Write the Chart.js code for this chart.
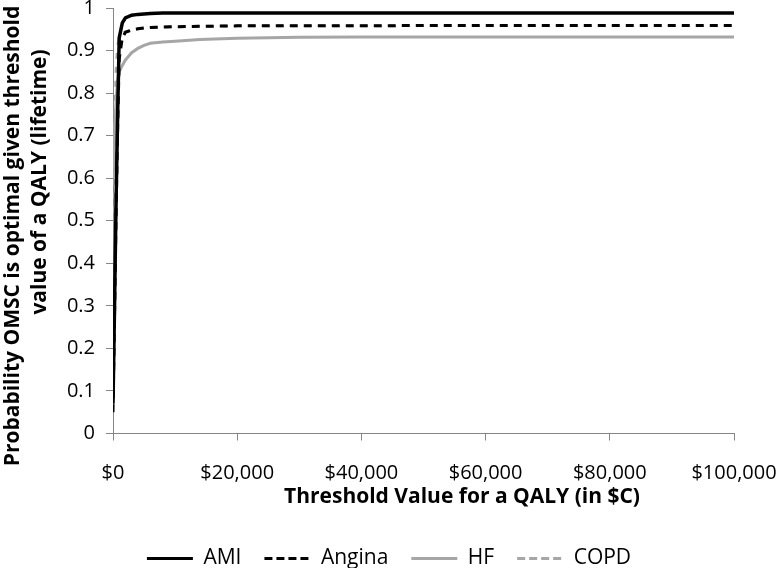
<!DOCTYPE html>
<html lang="en">
<head>
<meta charset="UTF-8">
<title>Probability OMSC is optimal</title>
<script src="https://cdn.jsdelivr.net/npm/chart.js@4"></script>
<style>
  body { margin: 0; background: #fff; }
  canvas { display: block; }
</style>
</head>
<body>
<canvas id="grafico" width="780" height="568"></canvas>
<script>
// threshold values ($C per QALY) where each curve is sampled
const thresholds = [0, 250, 500, 750, 1000, 1500, 2000, 3000, 4000, 5000, 6000, 8000, 10000, 14000, 20000, 25000, 30000, 40000, 50000, 60000, 70000, 80000, 90000, 100000];
const ami    = [0.07, 0.30, 0.55, 0.75, 0.93, 0.965, 0.977, 0.983, 0.985, 0.986, 0.987, 0.988, 0.988, 0.988, 0.988, 0.988, 0.988, 0.988, 0.988, 0.988, 0.988, 0.988, 0.988, 0.988];
const angina = [0.05, 0.28, 0.52, 0.72, 0.88, 0.93, 0.943, 0.948, 0.951, 0.953, 0.954, 0.955, 0.956, 0.957, 0.958, 0.958, 0.958, 0.958, 0.959, 0.959, 0.959, 0.959, 0.959, 0.959];
const hf     = [0.60, 0.70, 0.78, 0.83, 0.85, 0.865, 0.878, 0.895, 0.905, 0.912, 0.917, 0.920, 0.922, 0.926, 0.929, 0.930, 0.931, 0.932, 0.932, 0.932, 0.932, 0.932, 0.932, 0.932];
const copd   = [0.50, 0.70, 0.85, 0.91, 0.93, 0.94, 0.944, 0.948, 0.951, 0.953, 0.954, 0.955, 0.956, 0.957, 0.958, 0.958, 0.958, 0.958, 0.959, 0.959, 0.959, 0.959, 0.959, 0.959];

const seriesNames = ['AMI', 'Angina', 'HF', 'COPD'];
const xTickLabels = ['$0', '$20,000', '$40,000', '$60,000', '$80,000', '$100,000'];
const yTickLabels = ['0', '0.1', '0.2', '0.3', '0.4', '0.5', '0.6', '0.7', '0.8', '0.9', '1'];
const xTitle = 'Threshold Value for a QALY (in $C)';
const yTitle = ['Probability OMSC is optimal given threshold', 'value of a QALY (lifetime)'];

const axisGray = '#868686';
const lineGray = '#a6a6a6';

function puntos(valores) {
    return thresholds.map((x, i) => ({ x: x, y: valores[i] }));
}

// axis titles drawn by hand so they sit where the original puts them,
// and the legend nudged right to line up with the original
const axisTitles = {
    id: 'axisTitles',
    afterLayout(chart) {
        chart.legend.left += 22;
        chart.legend.right += 22;
    },
    afterDraw(chart) {
        const ctx = chart.ctx;
        ctx.save();
        ctx.fillStyle = '#000';
        ctx.font = 'bold 21px "Open Sans"';
        ctx.textAlign = 'center';
        ctx.textBaseline = 'middle';
        ctx.fillText(xTitle, 462, 497);

        ctx.rotate(-Math.PI / 2);
        ctx.fillText(yTitle[0], -236, 13);
        ctx.fillText(yTitle[1], -182, 40);
        ctx.restore();
    }
};

Chart.defaults.font.family = '"Open Sans", sans-serif';
Chart.defaults.color = '#000';

const ctx = document.getElementById('grafico').getContext('2d');
const myChart = new Chart(ctx, {
    type: 'line',
    data: {
        datasets: [{
            label: seriesNames[0],
            data: puntos(ami),
            borderColor: '#000',
            borderWidth: 3.5,
            order: 1
        }, {
            label: seriesNames[1],
            data: puntos(angina),
            borderColor: '#000',
            borderWidth: 3,
            borderDash: [8, 6],
            order: 2
        }, {
            label: seriesNames[2],
            data: puntos(hf),
            borderColor: lineGray,
            borderWidth: 3,
            order: 4
        }, {
            label: seriesNames[3],
            data: puntos(copd),
            borderColor: lineGray,
            borderWidth: 3,
            borderDash: [6, 8],
            borderDashOffset: 6,
            order: 3
        }]
    },
    options: {
        responsive: false,
        animation: false,
        devicePixelRatio: 1,
        elements: {
            point: { radius: 0 },
            line: { tension: 0, borderCapStyle: 'butt', fill: false }
        },
        layout: {
            padding: { left: 0, right: 46, top: 8, bottom: -11 }
        },
        plugins: {
            tooltip: { enabled: false },
            legend: {
                position: 'bottom',
                labels: {
                    usePointStyle: true,
                    pointStyle: 'line',
                    pointStyleWidth: 46,
                    padding: 23,
                    font: { size: 21 },
                    color: '#000',
                    sort: (a, b) => a.datasetIndex - b.datasetIndex,
                    generateLabels: chart => {
                        const items = Chart.defaults.plugins.legend.labels.generateLabels(chart);
                        items.forEach(item => {
                            const ds = chart.data.datasets[item.datasetIndex];
                            item.lineDash = ds.borderDash ? [8, 4] : [];
                            item.lineWidth = 3;
                            item.strokeStyle = ds.borderColor;
                        });
                        return items;
                    }
                }
            }
        },
        scales: {
            x: {
                type: 'linear',
                min: 0,
                max: 100000,
                ticks: {
                    stepSize: 20000,
                    padding: 21,
                    maxRotation: 0,
                    font: { size: 20 },
                    callback: (value, index) => xTickLabels[index]
                },
                grid: { drawOnChartArea: false, drawTicks: true, tickLength: 7, color: axisGray },
                border: { color: axisGray },
                afterFit: scale => {
                    scale.height = 91.5;
                    scale.paddingLeft = 0;
                    scale.paddingRight = 0;
                }
            },
            y: {
                min: 0,
                max: 1,
                ticks: {
                    stepSize: 0.1,
                    padding: 11,
                    font: { size: 20 },
                    callback: (value, index) => yTickLabels[index]
                },
                grid: { drawOnChartArea: false, drawTicks: true, tickLength: 7, color: axisGray },
                border: { color: axisGray },
                afterFit: scale => {
                    scale.width = 113;
                    scale.paddingTop = 0;
                    scale.paddingBottom = 0;
                }
            }
        }
    },
    plugins: [axisTitles]
});
</script>
</body>
</html>
